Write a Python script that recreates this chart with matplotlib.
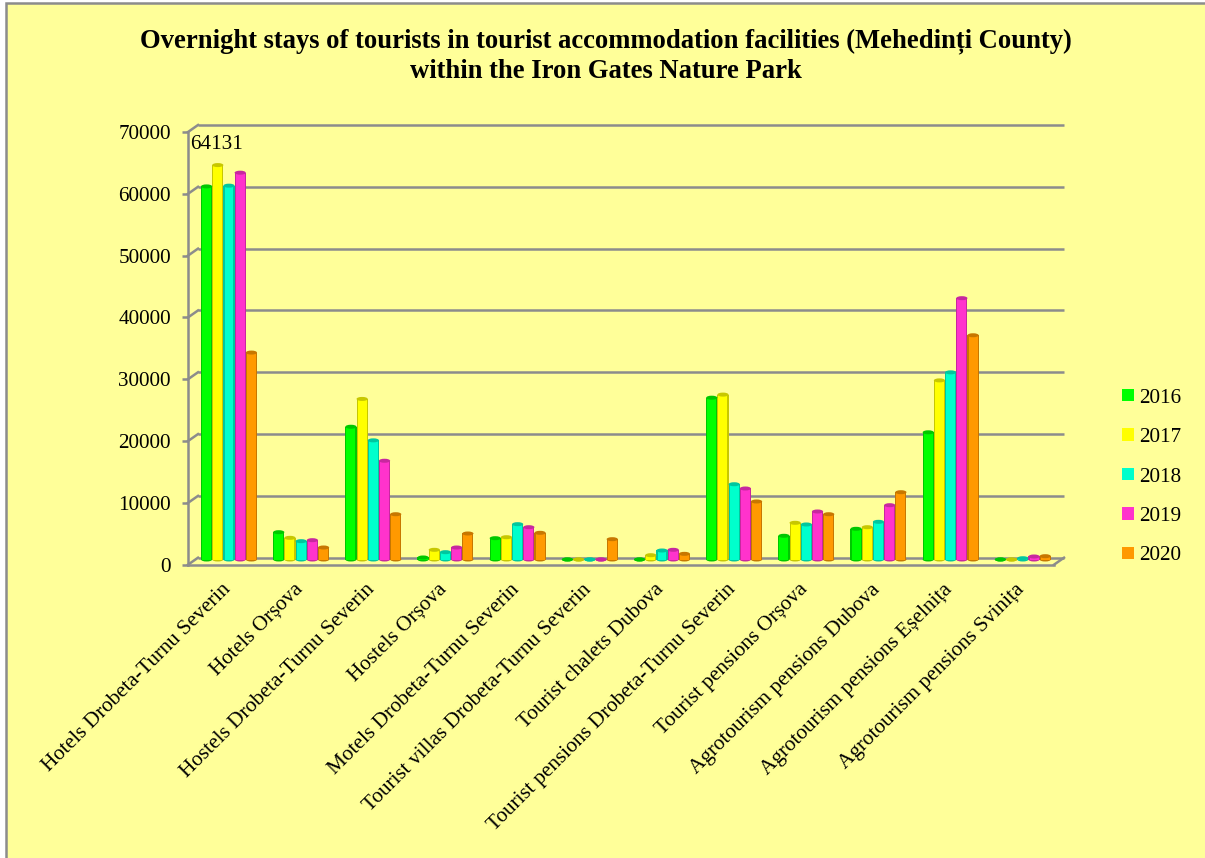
# -*- coding: utf8 -*-
"""
Overnight stays per accommodation type, drawn as a fake 3D column chart.
"""
import matplotlib
matplotlib.use('Agg')
import matplotlib.pyplot as plt
from matplotlib.patches import Ellipse, Patch, Rectangle
from matplotlib.colors import to_rgb

categories = [
    'Hotels Drobeta-Turnu Severin', 'Hotels Orșova',
    'Hostels Drobeta-Turnu Severin', 'Hostels Orșova',
    'Motels Drobeta-Turnu Severin', 'Tourist villas Drobeta-Turnu Severin',
    'Tourist chalets Dubova', 'Tourist pensions Drobeta-Turnu Severin',
    'Tourist pensions Orșova', 'Agrotourism pensions Dubova',
    'Agrotourism pensions Eșelnița', 'Agrotourism pensions Svinița',
]
y2016 = [60680, 4740, 21800, 650, 3770, 60, 50, 26500, 4160, 5290, 20900, 100]
y2017 = [64131, 3830, 26300, 1890, 3930, 50, 1020, 27000, 6260, 5550, 29300, 160]
y2018 = [60800, 3290, 19600, 1510, 6040, 60, 1780, 12500, 5990, 6420, 30600, 530]
y2019 = [62900, 3450, 16300, 2265, 5550, 100, 1890, 11810, 8090, 9110, 42600, 810]
y2020 = [33800, 2265, 7650, 4530, 4640, 3610, 1240, 9710, 7650, 11210, 36600, 860]
years = ['2016', '2017', '2018', '2019', '2020']
colors = ['#00FF00', '#FFFF00', '#00FFCC', '#FF33CC', '#FF9900']
yticks = [0, 10000, 20000, 30000, 40000, 50000, 60000, 70000]

series = [y2016, y2017, y2018, y2019, y2020]
WIDTH, HEIGHT = 1205, 858
BG = '#FFFF99'
GREY = '#8C8C8C'

plt.rcParams['font.family'] = ['Liberation Serif', 'DejaVu Serif']

fig = plt.figure(figsize=(WIDTH / 100, HEIGHT / 100), dpi=100, facecolor='white')
# panel runs off the right and bottom edges, so only left and top borders show
fig.patches.append(Rectangle(
    (6 / WIDTH, -0.02), 1.02, 1.02 - 3 / HEIGHT, transform=fig.transFigure,
    facecolor=BG, edgecolor=GREY, linewidth=1.8, zorder=-5))

ax = fig.add_axes([188 / WIDTH, (HEIGHT - 564.7) / HEIGHT,
                   866 / WIDTH, 432.7 / HEIGHT])
ax.patch.set_visible(False)
ax.set_xlim(0, 12)
ax.set_ylim(0, 70000)

# depth of the fake 3D box, in data units
px_x = 12 / 866
px_y = 70000 / 432.7
dx, dy = 10 * px_x, 7 * px_y

for v in yticks:
    ax.plot([dx, 12 + dx], [v + dy, v + dy], color=GREY, lw=1.8, zorder=1,
            clip_on=False, solid_capstyle='butt')
    ax.plot([0, dx], [v, v + dy], color=GREY, lw=1.8, zorder=1, clip_on=False)
ax.plot([12, 12 + dx], [0, dy], color=GREY, lw=1.8, zorder=1, clip_on=False)

bar_w = 11.2 * px_x
first = 0.568 - 2 * bar_w
base = 5.2 * px_y
cap_h = 4 * px_y

for s, (vals, col) in enumerate(zip(series, colors)):
    dark = tuple(c * 0.78 for c in to_rgb(col))
    xpos = [i + first + s * bar_w for i in range(len(vals))]
    body = [max(v - cap_h / 2, 0) for v in vals]
    ax.bar(xpos, body, bar_w, bottom=base, color=dark, zorder=3, clip_on=False)
    ax.bar(xpos, body, bar_w * 0.8, bottom=base,
           color=col, zorder=4, clip_on=False)
    for x, v, b in zip(xpos, vals, body):
        ax.add_patch(Ellipse((x, base), bar_w, cap_h, facecolor=dark,
                             edgecolor='none', zorder=3, clip_on=False))
        ax.add_patch(Ellipse((x, base + b), bar_w, cap_h, facecolor=dark,
                             edgecolor='none', zorder=5, clip_on=False))

ax.text(0.39, 67900, str(max(y2017)), fontsize=15.2, ha='center', va='center',
        zorder=6)

for side in ('top', 'right'):
    ax.spines[side].set_visible(False)
for side in ('left', 'bottom'):
    ax.spines[side].set_color(GREY)
    ax.spines[side].set_linewidth(1.8)
    ax.spines[side].set_zorder(2)

ax.set_yticks(yticks)
ax.set_xticks([i + 0.46 for i in range(len(categories))])
ax.set_xticklabels(categories, rotation=45, ha='right', va='top',
                   rotation_mode='anchor')
ax.tick_params(axis='y', length=4.3, width=1.8, color=GREY, labelsize=15.2, pad=8)
ax.tick_params(axis='x', length=0, labelsize=15.3, pad=11)

handles = [Patch(facecolor=c, edgecolor='none') for c in colors]
fig.legend(handles, years, loc='center left',
           bbox_to_anchor=(1122 / WIDTH, 1 - 477 / HEIGHT), frameon=False,
           fontsize=15.2, handlelength=0.55, handleheight=0.55, handletextpad=0.25,
           labelspacing=0.97, borderpad=0, borderaxespad=0)

fig.text(606 / WIDTH, 1 - 56 / HEIGHT,
         'Overnight stays of tourists in tourist accommodation facilities '
         '(Mehedinți County)\nwithin the Iron Gates Nature Park',
         fontsize=19.2, fontweight='bold', ha='center', va='center',
         linespacing=1.27)

fig.savefig('out.png', dpi=100, facecolor=fig.get_facecolor())
